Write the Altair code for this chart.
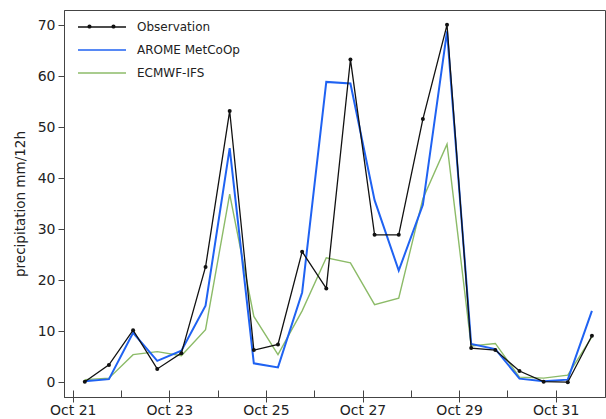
import altair as alt
import pandas as pd

# ---- data (12-hourly accumulations) ----
start_time = "2018-10-21 06:00"
n_steps = 22
observation = [0.1, 3.4, 10.2, 2.6, 5.7, 22.6, 53.2, 6.3, 7.4, 25.6, 18.4,
               63.3, 28.9, 28.9, 51.6, 70.1, 6.7, 6.3, 2.2, 0.1, 0.0, 9.1]
arome = [0.2, 0.6, 9.7, 4.2, 6.2, 15.0, 45.9, 3.7, 2.9, 17.6, 58.9,
         58.6, 35.7, 21.9, 34.8, 68.8, 7.5, 6.5, 0.7, 0.2, 0.5, 14.0]
ecmwf = [0.5, 0.8, 5.4, 6.0, 5.2, 10.3, 36.9, 12.9, 5.4, 14.0, 24.4,
         23.4, 15.2, 16.5, 36.0, 46.7, 7.1, 7.6, 1.0, 0.8, 1.4, 8.9]

series_names = ["Observation", "AROME MetCoOp", "ECMWF-IFS"]
series_colors = ["#111111", "#1f62f2", "#8cbb68"]
major_days = [21, 23, 25, 27, 29, 31]
minor_days = list(range(21, 32))
y_ticks = [0, 10, 20, 30, 40, 50, 60, 70]

times = pd.date_range(start_time, periods=n_steps, freq="12h", tz="UTC")
rows = []
for name, vals in zip(series_names, [observation, arome, ecmwf]):
    for t, v in zip(times, vals):
        rows.append({"time": t.strftime("%Y-%m-%dT%H:%M:%SZ"), "series": name, "value": v})
df = pd.DataFrame(rows)

FONT = "DejaVu Sans"
AX = "#444444"

xscale = alt.Scale(type="utc", domain=["2018-10-20T19:40:00Z", "2018-11-01T00:30:00Z"])
yscale = alt.Scale(domain=[-2.9, 73], nice=False, zero=False)

def dt(d):
    return alt.DateTime(year=2018, month=10, date=d, utc=True)

axis_major = alt.Axis(values=[dt(d) for d in major_days], format="%b %d", tickSize=5,
                      labelPadding=1, title=None, grid=False, domainColor=AX, tickColor=AX,
                      labelFontSize=14, labelColor="#222222", labelFont=FONT, orient="bottom",
                      labelFlush=False)
axis_minor = alt.Axis(values=[dt(d) for d in minor_days], labels=False, domain=False,
                      tickSize=7, offset=-7, title=None, grid=False, tickColor=AX, orient="bottom")
yaxis = alt.Axis(values=y_ticks, tickSize=6, labelPadding=3, title="precipitation mm/12h",
                 titleFontSize=13.5, titleFont=FONT, titleFontWeight="normal", titleColor="#222222",
                 titlePadding=10, labelFontSize=14, labelFont=FONT, labelColor="#222222",
                 grid=False, domainColor=AX, tickColor=AX)

p_line = "M-2,0H2"
p_dots = ("M-1.17,0A0.17,0.17,0,1,0,-0.83,0A0.17,0.17,0,1,0,-1.17,0Z"
          "M0.83,0A0.17,0.17,0,1,0,1.17,0A0.17,0.17,0,1,0,0.83,0Z")

legend = alt.Legend(
    title=None, orient="none", legendX=25, legendY=4, symbolSize=576, symbolType=p_line,
    labelOffset=22, labelFontSize=12, labelFont=FONT, labelColor="#222222",
    labelFontWeight="normal", rowPadding=4, padding=0, symbolStrokeWidth=1.6,
)
dots_legend = alt.Legend(
    title=None, orient="none", legendX=25, legendY=4, symbolSize=576,
    labelOffset=22, labelFontSize=12, labelFont=FONT, labelOpacity=0, labelColor="transparent",
    rowPadding=4, padding=0, symbolStrokeWidth=1, symbolFillColor="#111111",
    symbolStrokeColor="#111111", symbolOpacity=1,
)

color = alt.Color("series:N", scale=alt.Scale(domain=series_names, range=series_colors), legend=legend)

base = alt.Chart(df)

green = base.transform_filter(alt.datum.series == "ECMWF-IFS").mark_line(strokeWidth=1.4).encode(
    x=alt.X("time:T", scale=xscale, axis=axis_minor),
    y=alt.Y("value:Q", scale=yscale, axis=yaxis),
    color=color,
)
blue = base.transform_filter(alt.datum.series == "AROME MetCoOp").mark_line(strokeWidth=2).encode(
    x=alt.X("time:T", scale=xscale, axis=None),
    y=alt.Y("value:Q", scale=yscale, axis=yaxis),
    color=color,
)
black = base.transform_filter(alt.datum.series == "Observation").mark_line(strokeWidth=1.3).encode(
    x=alt.X("time:T", scale=xscale, axis=axis_major),
    y=alt.Y("value:Q", scale=yscale, axis=yaxis),
    color=color,
)
dots = base.transform_filter(alt.datum.series == "Observation").mark_circle(size=16, opacity=1, color="#111111").encode(
    x=alt.X("time:T", scale=xscale, axis=None),
    y=alt.Y("value:Q", scale=yscale, axis=yaxis),
)
# legend-only layer: adds the two marker dots on the Observation legend entry
legend_dots = base.transform_filter(alt.datum.series == "Observation").transform_calculate(
    nothing="null"
).mark_point(filled=True, color="#111111", opacity=1).encode(
    x=alt.X("time:T", scale=xscale, axis=None),
    y=alt.Y("nothing:Q", scale=yscale, axis=yaxis),
    shape=alt.Shape("series:N", scale=alt.Scale(domain=["Observation"], range=[p_dots]), legend=dots_legend),
)

chart = alt.layer(green, blue, black, dots, legend_dots).resolve_axis(x="independent").resolve_legend(
    shape="independent", color="shared"
).properties(
    width=541, height=387,
    autosize=alt.AutoSizeParams(type="none"),
    padding={"left": 64, "top": 10, "right": 1, "bottom": 22},
    background="white",
).configure_view(stroke=AX, strokeWidth=1)

chart.save("out.html", embed_options={"renderer": "svg", "actions": False})
